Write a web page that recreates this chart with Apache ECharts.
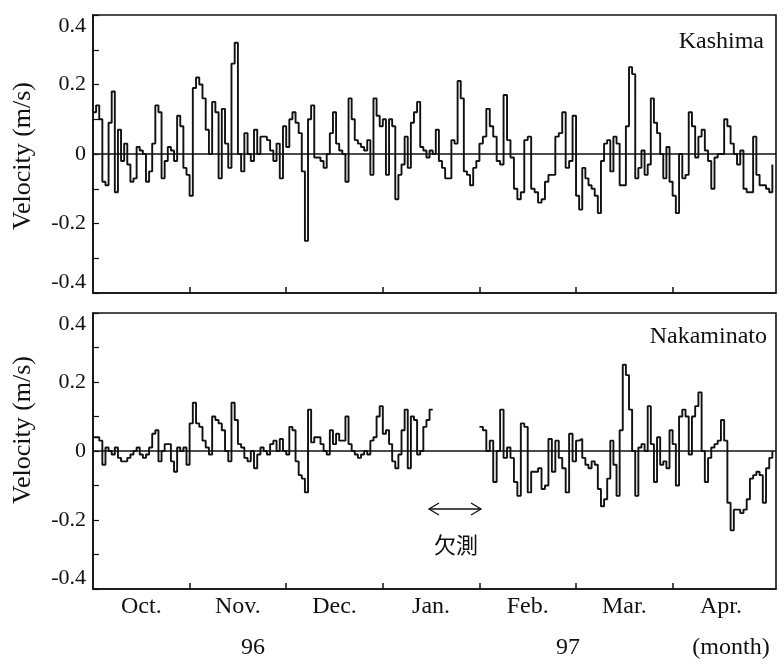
<!DOCTYPE html>
<html>
<head>
<meta charset="utf-8">
<script src="https://cdn.jsdelivr.net/npm/echarts@6/dist/echarts.min.js"></script>
<style>
  html, body { margin: 0; padding: 0; background: #fff; }
  #chart { width: 784px; height: 666px; }
</style>
</head>
<body>
<div id="chart"></div>
<script>
// Month labels (centred under each month) and y tick labels
const monthLabels = ['Oct.', 'Nov.', 'Dec.', 'Jan.', 'Feb.', 'Mar.', 'Apr.'];
const monthTicks = [1, 2, 3, 4, 5, 6];
const monthCentres = [0.5, 1.5, 2.5, 3.5, 4.5, 5.5, 6.5];
const yTickLabels = [-0.4, -0.2, 0, 0.2, 0.4];

// Daily mean current velocity (m/s), Kashima, from 1 Oct 1996
const kashimaOct = [0.12, 0.14, 0.10, -0.08, -0.09, 0.09, 0.18, -0.11, 0.07, -0.02,
  0.03, -0.03, -0.08, -0.07, 0.02, 0.01, 0.00, -0.08, -0.05, 0.03,
  0.14, 0.12, -0.07, -0.02, 0.02, 0.01, -0.02, 0.11, 0.08, -0.04, -0.06];
const kashimaNov = [-0.12, 0.19, 0.22, 0.20, 0.16, 0.07, 0.00, 0.15, 0.12, -0.07,
  0.13, 0.03, -0.04, 0.26, 0.32, 0.00, -0.05, 0.06, 0.00, -0.02,
  0.07, 0.00, 0.05, 0.05, 0.04, 0.01, -0.02, 0.03, -0.07, 0.08];
const kashimaDec = [0.02, 0.10, 0.12, 0.09, 0.06, -0.05, -0.25, 0.10, 0.14, -0.01,
  -0.01, -0.02, -0.04, 0.00, 0.06, 0.12, 0.03, 0.01, 0.00, -0.08,
  0.16, 0.10, 0.04, 0.03, 0.02, 0.01, 0.04, -0.06, 0.16, 0.11, 0.08];
const kashimaJan = [0.10, -0.06, 0.10, 0.08, -0.13, -0.06, -0.03, 0.05, -0.04, 0.09,
  0.12, 0.15, 0.02, 0.01, -0.01, 0.01, 0.00, 0.07, -0.02, -0.04,
  -0.07, -0.07, 0.04, 0.03, 0.21, 0.16, -0.05, -0.06, -0.09, -0.04, -0.02];
const kashimaFeb = [0.03, 0.05, 0.13, 0.08, 0.05, -0.02, -0.03, 0.17, 0.04, -0.01,
  -0.10, -0.13, -0.11, 0.04, 0.05, -0.10, -0.11, -0.14, -0.13, -0.08,
  -0.06, -0.06, 0.05, 0.06, 0.12, -0.04, -0.02, 0.11];
const kashimaMar = [-0.12, -0.16, -0.04, -0.07, -0.09, -0.10, -0.12, -0.17, -0.02, 0.03,
  0.04, -0.05, 0.05, 0.03, -0.09, -0.09, 0.08, 0.25, 0.23, -0.07,
  -0.04, 0.01, -0.06, -0.03, 0.16, 0.09, 0.06, 0.00, -0.07, 0.02, -0.08];
const kashimaApr = [-0.12, -0.17, 0.00, -0.07, -0.06, 0.12, 0.08, -0.01, 0.05, 0.07,
  0.01, -0.02, -0.10, -0.01, 0.00, 0.00, 0.10, 0.08, 0.03, 0.00,
  -0.03, 0.01, -0.10, -0.11, -0.11, 0.05, -0.06, -0.09, -0.09, -0.10];
const kashimaMay = [-0.11, -0.03];

// Daily mean current velocity (m/s), Nakaminato; null = no observation
const nakaminatoOct = [0.04, 0.04, 0.03, -0.04, 0.01, 0.00, -0.01, 0.01, -0.02, -0.03,
  -0.03, -0.02, -0.01, 0.00, 0.01, -0.01, -0.02, -0.01, 0.01, 0.05,
  0.06, -0.03, 0.00, 0.02, 0.02, -0.03, -0.06, 0.01, 0.00, 0.01, -0.04];
const nakaminatoNov = [0.08, 0.14, 0.08, 0.07, 0.03, 0.01, -0.01, 0.10, 0.09, 0.08,
  0.06, 0.00, -0.03, 0.14, 0.09, 0.02, 0.01, -0.02, -0.03, 0.00,
  -0.05, -0.01, 0.01, 0.00, -0.01, 0.02, 0.03, 0.00, 0.035, 0.00];
const nakaminatoDec = [-0.01, 0.07, 0.06, -0.03, -0.07, -0.08, -0.12, 0.12, 0.025, 0.04,
  0.04, 0.02, 0.00, -0.01, 0.06, 0.02, 0.05, 0.03, 0.03, 0.10,
  0.02, 0.00, -0.01, -0.02, -0.01, 0.00, -0.01, 0.03, 0.04, 0.10, 0.13];
const nakaminatoJan = [0.05, 0.06, 0.02, -0.03, -0.05, -0.01, 0.06, 0.12, -0.05, 0.10,
  0.09, -0.01, 0.00, 0.07, 0.09, 0.12, null, null, null, null,
  null, null, null, null, null, null, null, null, null, null, null];
const nakaminatoFeb = [0.07, 0.06, 0.00, 0.03, -0.09, 0.00, 0.12, -0.02, 0.01, -0.02,
  -0.09, -0.13, 0.08, 0.07, -0.12, -0.06, -0.06, -0.05, -0.11, -0.10,
  0.035, -0.06, 0.03, -0.02, -0.05, -0.12, 0.05, -0.03];
const nakaminatoMar = [0.03, 0.035, -0.02, -0.04, -0.05, -0.03, -0.04, -0.11, -0.16, -0.14,
  -0.08, 0.03, -0.04, -0.13, 0.06, 0.25, 0.22, 0.12, 0.00, -0.13,
  0.01, 0.02, 0.00, 0.13, 0.02, -0.09, 0.04, -0.04, -0.03, -0.05, 0.06];
const nakaminatoApr = [0.02, -0.10, 0.10, 0.12, 0.10, -0.01, 0.10, 0.13, 0.17, 0.00,
  -0.09, -0.02, 0.01, 0.02, 0.03, 0.09, 0.03, -0.15, -0.23, -0.17,
  -0.17, -0.18, -0.17, -0.14, -0.08, -0.07, -0.06, -0.07, -0.15, -0.05];
const nakaminatoMay = [-0.02, 0.00];

const kashima = [].concat(kashimaOct, kashimaNov, kashimaDec, kashimaJan,
  kashimaFeb, kashimaMar, kashimaApr, kashimaMay);
const nakaminato = [].concat(nakaminatoOct, nakaminatoNov, nakaminatoDec, nakaminatoJan,
  nakaminatoFeb, nakaminatoMar, nakaminatoApr, nakaminatoMay);

// Position of the i-th day after 1 Oct 1996 on a month axis (each month = 1 unit)
function monthPos(i) {
  const d = new Date(1996, 9, 1 + i);
  const m = (d.getFullYear() - 1996) * 12 + d.getMonth() - 9;
  const dim = new Date(d.getFullYear(), d.getMonth() + 1, 0).getDate();
  return m + (d.getDate() - 1) / dim;
}
function toPoints(values) {
  return values.map((v, i) => [monthPos(i), v === null ? null : v]);
}

const SERIF = '"Liberation Serif", "Times New Roman", serif';
const INK = '#111';

function xAxisFor(gridIndex, withLabels) {
  return {
    type: 'value', gridIndex, min: 0, max: 7.07,
    axisLine: { show: true, onZero: false, lineStyle: { color: INK, width: 1.6 } },
    axisTick: { show: true, inside: true, length: 6, customValues: monthTicks,
      lineStyle: { color: INK, width: 1.5 } },
    splitLine: { show: false },
    axisLabel: withLabels ? {
      show: true, customValues: monthCentres, margin: 6,
      formatter: v => monthLabels[Math.floor(v)] || '',
      color: INK, fontFamily: SERIF, fontSize: 24
    } : { show: false }
  };
}
function yAxisFor(gridIndex) {
  return {
    type: 'value', gridIndex, min: -0.4, max: 0.4, interval: 0.1,
    axisLine: { show: true, lineStyle: { color: INK, width: 1.6 } },
    axisTick: { show: true, inside: true, length: 6, lineStyle: { color: INK, width: 1.2 } },
    splitLine: { show: false },
    axisLabel: {
      show: true, customValues: yTickLabels, margin: 7,
      verticalAlignMaxLabel: 'top', verticalAlignMinLabel: 'bottom',
      formatter: v => (Math.abs(v) < 1e-9 ? '0' : v.toFixed(1)),
      color: INK, fontFamily: SERIF, fontSize: 22
    }
  };
}
function seriesFor(idx, values) {
  return {
    type: 'line', xAxisIndex: idx, yAxisIndex: idx,
    data: toPoints(values), step: 'end', showSymbol: false, connectNulls: false,
    lineStyle: { color: INK, width: 1.9 },
    markLine: {
      silent: true, symbol: ['none', 'none'], label: { show: false },
      lineStyle: { color: INK, width: 1.6, type: 'solid' },
      data: [{ yAxis: 0 }]
    }
  };
}
function text(str, x, y, size, opts) {
  return Object.assign({
    type: 'text', x, y, silent: true,
    style: Object.assign({
      text: str, fill: INK, fontFamily: SERIF, fontSize: size,
      textAlign: 'center', textVerticalAlign: 'middle'
    }, (opts && opts.style) || {})
  }, (opts && opts.el) || {});
}

const chart = echarts.init(document.getElementById('chart'), null, { renderer: 'canvas' });
chart.setOption({
  animation: false,
  backgroundColor: '#fff',
  grid: [
    { left: 93, right: 8, top: 15, height: 278, show: true, borderColor: INK, borderWidth: 1.6 },
    { left: 93, right: 8, top: 313, height: 276, show: true, borderColor: INK, borderWidth: 1.6 }
  ],
  xAxis: [xAxisFor(0, false), xAxisFor(1, true)],
  yAxis: [yAxisFor(0), yAxisFor(1)],
  series: [seriesFor(0, kashima), seriesFor(1, nakaminato)],
  graphic: [
    text('Velocity (m/s)', 23, 156, 26, { el: { rotation: Math.PI / 2 } }),
    text('Velocity (m/s)', 23, 430, 26, { el: { rotation: Math.PI / 2 } }),
    text('Kashima', 764, 42, 24, { style: { textAlign: 'right' } }),
    text('Nakaminato', 767, 337, 24, { style: { textAlign: 'right' } }),
    text('96', 253, 648, 24),
    text('97', 568, 648, 24),
    text('(month)', 731, 648, 24),
    text('欠測', 456, 545, 22, { style: { fontFamily: '"Noto Sans CJK JP", sans-serif' } }),
    { type: 'line', silent: true, shape: { x1: 429, y1: 509, x2: 481, y2: 509 },
      style: { stroke: INK, lineWidth: 1.3 } },
    { type: 'polyline', silent: true, shape: { points: [[439, 503], [429, 509], [439, 515]] },
      style: { stroke: INK, lineWidth: 1.3, fill: null } },
    { type: 'polyline', silent: true, shape: { points: [[471, 503], [481, 509], [471, 515]] },
      style: { stroke: INK, lineWidth: 1.3, fill: null } }
  ]
});
</script>
</body>
</html>
